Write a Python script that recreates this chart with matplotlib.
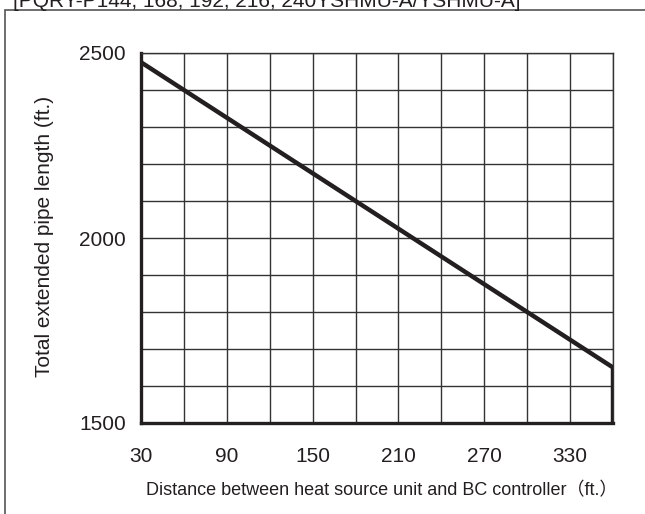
import matplotlib
matplotlib.use("Agg")
import matplotlib.pyplot as plt
from matplotlib.patches import Rectangle

# data
distance_ft = [30, 360, 360]
total_length_ft = [2475, 1650, 1500]

x_ticks = [30, 90, 150, 210, 270, 330]
y_ticks = [1500, 2000, 2500]
x_grid = list(range(30, 361, 30))
y_grid = list(range(1500, 2501, 100))

title = "[PQRY-P144, 168, 192, 216, 240YSHMU-A/YSHMU-A]"
x_label = "Distance between heat source unit and BC controller\uff08ft.\uff09"
y_label = "Total extended pipe length (ft.)"

plt.rcParams['font.family'] = ['Liberation Sans', 'Noto Sans CJK JP', 'DejaVu Sans']
ink = '#231f20'

fig = plt.figure(figsize=(6.45, 5.14), dpi=100)
ax = fig.add_axes([141 / 645, 1 - 423 / 514, 472 / 645, 370 / 514])

# outer frame of the original figure (cut at right/bottom)
fig.patches.append(Rectangle((5 / 645, -0.1), 1.2, 1 - 10 / 514 + 0.1,
                             transform=fig.transFigure, fill=False,
                             edgecolor='#555555', linewidth=1.2))
fig.text(13 / 645, 1 - 7 / 514, title, fontsize=15, color=ink,
         ha='left', va='baseline')

ax.plot(distance_ft, total_length_ft, color=ink, linewidth=3.2,
        solid_capstyle='butt', solid_joinstyle='miter', zorder=5)

ax.set_xlim(30, 360)
ax.set_ylim(1500, 2500)
ax.set_xticks(x_ticks)
ax.set_yticks(y_ticks)
ax.set_xticks(x_grid, minor=True)
ax.set_yticks(y_grid, minor=True)
ax.grid(True, which='both', color='#333333', linewidth=1.0)
ax.tick_params(which='both', length=0, labelsize=15, colors=ink)
ax.tick_params(axis='x', pad=17)
ax.tick_params(axis='y', pad=11)

for side in ['left', 'bottom']:
    ax.spines[side].set_linewidth(2.4)
    ax.spines[side].set_color(ink)
for side in ['top', 'right']:
    ax.spines[side].set_linewidth(1.0)
    ax.spines[side].set_color('#333333')

ax.set_xlabel(x_label, fontsize=13, color=ink)
ax.xaxis.set_label_coords((382 - 141) / 472, -(482 - 423) / 370)
ax.set_ylabel(y_label, fontsize=15, color=ink)
ax.yaxis.set_label_coords(-(141 - 54) / 472, 0.505)

fig.savefig('out.png', dpi=100)
